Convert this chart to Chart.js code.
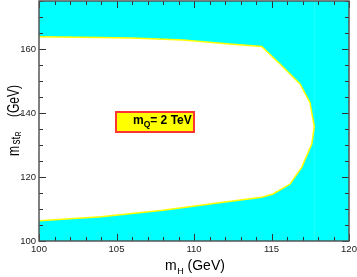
<!DOCTYPE html>
<html>
<head>
<meta charset="utf-8">
<script src="https://cdn.jsdelivr.net/npm/chart.js@4/dist/chart.umd.min.js"></script>
<style>
  html, body { margin: 0; padding: 0; background: #fff; }
  canvas { display: block; }
</style>
</head>
<body>
<canvas id="c" width="357" height="277"></canvas>
<script>
'use strict';

// excluded-region boundary, walked from the left edge along the top, round the tip and back
const boundaryX = [100, 104, 106, 109.3, 112.3, 114.37, 115.55, 116.84, 117.48, 117.76,
                   117.6, 116.95, 116.2, 115.1, 114.37, 113, 112, 108, 104, 100];
const boundaryY = [163.8, 163.6, 163.4, 162.8, 161.6, 160.8, 155.3, 149.1, 143.3, 135.8,
                   130.3, 123, 117.8, 114.7, 113.7, 112.8, 112.2, 109.6, 107.6, 106.3];

// faint seam in the shaded area
const seamX = [117.76, 117.76];
const seamY = [100, 175];

const xRange = [100, 120];
const yRange = [100, 175];
const xTickLabels = [100, 105, 110, 115, 120];
const yTickLabels = [100, 120, 140, 160];
const labelText = ['m', 'Q', '= 2 TeV'];

const FONT = '"Liberation Sans", Arial, Helvetica, sans-serif';

const toPoints = (xs, ys) => xs.map((x, i) => ({ x: x, y: ys[i] }));

const backdrop = {
    id: 'backdrop',
    beforeDatasetsDraw(chart) {
        const a = chart.chartArea, ctx = chart.ctx;
        ctx.save();
        ctx.fillStyle = '#00ffff';
        ctx.fillRect(a.left, a.top, a.right - a.left, a.bottom - a.top);
        ctx.restore();
    }
};

const frame = {
    id: 'frame',
    afterDatasetsDraw(chart) {
        const a = chart.chartArea, ctx = chart.ctx;
        const xs = chart.scales.x, ys = chart.scales.y;
        ctx.save();
        ctx.strokeStyle = '#333';
        ctx.lineWidth = 1;
        ctx.beginPath();
        for (let v = xRange[0]; v <= xRange[1]; v++) {
            const px = Math.round(xs.getPixelForValue(v)) + 0.5;
            const len = v % 5 === 0 ? 7 : 4;
            ctx.moveTo(px, a.bottom); ctx.lineTo(px, a.bottom - len);
            ctx.moveTo(px, a.top); ctx.lineTo(px, a.top + len);
        }
        for (let v = yRange[0]; v <= yRange[1]; v += 5) {
            const py = Math.round(ys.getPixelForValue(v)) + 0.5;
            const len = (v - 100) % 20 === 0 ? 7 : 4;
            ctx.moveTo(a.left, py); ctx.lineTo(a.left + len, py);
            ctx.moveTo(a.right, py); ctx.lineTo(a.right - len, py);
        }
        ctx.stroke();
        ctx.strokeStyle = '#555';
        ctx.lineWidth = 1.5;
        ctx.strokeRect(a.left, a.top, a.right - a.left, a.bottom - a.top);
        ctx.restore();
    }
};

const annotations = {
    id: 'annotations',
    afterDraw(chart) {
        const ctx = chart.ctx;
        ctx.save();
        ctx.fillStyle = '#000';
        ctx.textBaseline = 'alphabetic';

        // x title: m_H (GeV)
        let x = 165;
        ctx.font = '14px ' + FONT;
        ctx.fillText('m', x, 270);
        x += ctx.measureText('m').width + 0.5;
        ctx.font = '9px ' + FONT;
        ctx.fillText('H', x, 274);
        x += ctx.measureText('H').width;
        ctx.font = '14px ' + FONT;
        ctx.fillText(' (GeV)', x, 270);

        // y title: m_{st_R} (GeV), rotated and a little stretched
        ctx.save();
        ctx.translate(19, 156);
        ctx.scale(1.3, 1);
        ctx.rotate(-Math.PI / 2);
        let u = 0;
        ctx.font = '12px ' + FONT;
        ctx.fillText('m', u, 0);
        u += ctx.measureText('m').width + 1.5;
        ctx.font = '10px ' + FONT;
        ctx.fillText('st', u, 0.5);
        u += ctx.measureText('st').width + 0.5;
        ctx.font = '6.5px ' + FONT;
        ctx.fillText('R', u, 1.5);
        ctx.font = '12px ' + FONT;
        ctx.fillText('(GeV)', 39, 0);
        ctx.restore();

        // label box
        ctx.fillStyle = '#ffff00';
        ctx.fillRect(116, 112, 78, 20);
        ctx.strokeStyle = '#ff3333';
        ctx.lineWidth = 2;
        ctx.strokeRect(116, 112, 78, 20);
        ctx.fillStyle = '#000';
        x = 133;
        ctx.font = 'bold 12px ' + FONT;
        ctx.fillText(labelText[0], x, 123.5);
        x += ctx.measureText(labelText[0]).width;
        ctx.font = 'bold 8.5px ' + FONT;
        ctx.fillText(labelText[1], x, 126.5);
        x += ctx.measureText(labelText[1]).width;
        ctx.font = 'bold 12px ' + FONT;
        ctx.fillText(labelText[2], x, 123.5);
        ctx.restore();
    }
};

new Chart(document.getElementById('c'), {
    type: 'line',
    data: {
        datasets: [
            {
                data: toPoints(boundaryX, boundaryY),
                borderColor: '#ffff00',
                borderWidth: 1.5,
                backgroundColor: '#ffffff',
                fill: 'shape',
                pointRadius: 0,
                tension: 0
            },
            {
                data: toPoints(seamX, seamY),
                borderColor: 'rgba(255,255,255,0.15)',
                borderWidth: 1,
                fill: false,
                pointRadius: 0
            }
        ]
    },
    options: {
        responsive: false,
        animation: false,
        devicePixelRatio: 1,
        layout: { padding: { left: 0, right: 8, top: 1, bottom: 0 } },
        plugins: { legend: { display: false }, tooltip: { enabled: false } },
        scales: {
            x: {
                type: 'linear',
                min: xRange[0],
                max: xRange[1],
                grid: { display: false, drawTicks: false },
                border: { display: false },
                afterBuildTicks: s => { s.ticks = xTickLabels.map(v => ({ value: v })); },
                afterFit: s => { s.height = 36; s.paddingLeft = 0; s.paddingRight = 0; },
                ticks: { padding: 3, maxRotation: 0, color: '#222', font: { family: FONT, size: 9.5 } }
            },
            y: {
                type: 'linear',
                min: yRange[0],
                max: yRange[1],
                grid: { display: false, drawTicks: false },
                border: { display: false },
                afterBuildTicks: s => { s.ticks = yTickLabels.map(v => ({ value: v })); },
                afterFit: s => { s.width = 39; s.paddingTop = 0; s.paddingBottom = 0; },
                ticks: { padding: 3, color: '#222', font: { family: FONT, size: 9.5 } }
            }
        }
    },
    plugins: [backdrop, frame, annotations]
});
</script>
</body>
</html>
